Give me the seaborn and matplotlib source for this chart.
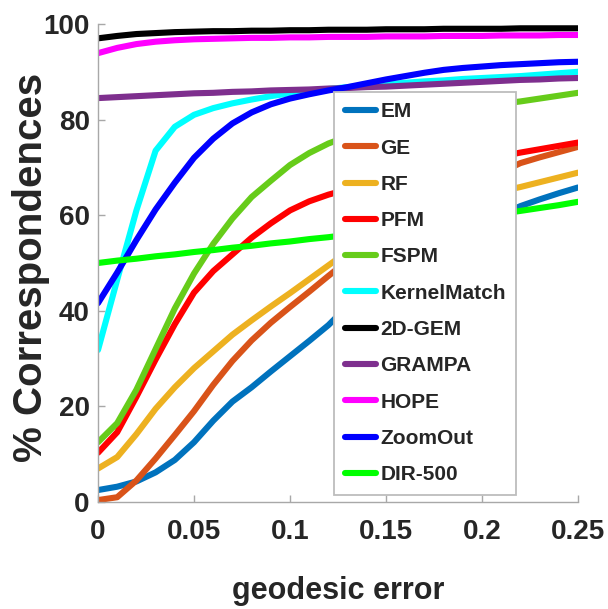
import numpy as np
import pandas as pd
import matplotlib
matplotlib.use("Agg")
import matplotlib.pyplot as plt
import seaborn as sns

# ---- data ----
x_err = [0.00, 0.01, 0.02, 0.03, 0.04, 0.05, 0.06, 0.07, 0.08, 0.09, 0.10, 0.11, 0.12,
         0.13, 0.14, 0.15, 0.16, 0.17, 0.18, 0.19, 0.20, 0.21, 0.22, 0.23, 0.24, 0.25]

em = [2.5, 3.2, 4.3, 6.2, 8.8, 12.5, 17.0, 21.0, 24.0, 27.3, 30.5, 33.7, 37.0,
      41.0, 44.2, 47.0, 49.6, 52.0, 54.2, 56.2, 58.2, 60.1, 61.9, 63.3, 64.6, 65.8]
ge = [0.4, 1.0, 4.5, 9.1, 14.0, 19.0, 24.5, 29.5, 33.8, 37.5, 40.8, 44.0, 47.3,
      50.5, 53.5, 56.2, 58.7, 61.0, 63.2, 65.2, 67.1, 69.0, 70.9, 72.1, 73.2, 74.3]
rf = [7.0, 9.4, 14.2, 19.5, 24.0, 28.0, 31.5, 35.0, 38.0, 40.9, 43.7, 46.6, 49.5,
      52.4, 54.6, 56.6, 58.4, 60.0, 61.5, 62.8, 64.0, 65.0, 65.9, 66.9, 67.9, 68.9]
pfm = [10.3, 14.6, 22.0, 29.8, 37.2, 43.8, 48.3, 51.8, 55.3, 58.3, 61.0, 62.9, 64.3,
       65.4, 66.4, 67.3, 68.2, 69.1, 69.9, 70.7, 71.5, 72.3, 73.1, 73.8, 74.5, 75.2]
fspm = [12.5, 16.5, 23.5, 32.0, 40.5, 47.8, 54.0, 59.3, 63.8, 67.2, 70.5, 73.0, 75.0,
        76.5, 77.8, 79.0, 80.0, 80.8, 81.6, 82.2, 82.8, 83.3, 83.8, 84.4, 85.0, 85.6]
kernelmatch = [31.8, 46.5, 61.0, 73.5, 78.5, 81.0, 82.4, 83.4, 84.2, 84.9, 85.5, 86.0, 86.4,
               86.8, 87.1, 87.4, 87.7, 88.0, 88.2, 88.5, 88.7, 88.9, 89.1, 89.4, 89.7, 90.0]
gem2d = [97.0, 97.5, 97.9, 98.1, 98.3, 98.4, 98.5, 98.5, 98.6, 98.6, 98.7, 98.7, 98.8,
         98.8, 98.8, 98.9, 98.9, 98.9, 99.0, 99.0, 99.0, 99.0, 99.1, 99.1, 99.1, 99.1]
grampa = [84.5, 84.7, 84.9, 85.1, 85.3, 85.5, 85.6, 85.8, 85.9, 86.1, 86.2, 86.3, 86.5,
          86.6, 86.8, 86.9, 87.1, 87.3, 87.5, 87.7, 87.9, 88.1, 88.3, 88.4, 88.6, 88.7]
hope = [93.9, 95.0, 95.8, 96.3, 96.6, 96.8, 96.9, 97.0, 97.1, 97.1, 97.2, 97.2, 97.3,
        97.3, 97.3, 97.4, 97.4, 97.4, 97.5, 97.5, 97.5, 97.6, 97.6, 97.6, 97.7, 97.7]
zoomout = [41.6, 48.0, 54.8, 61.2, 66.8, 72.0, 76.0, 79.2, 81.5, 83.2, 84.4, 85.3, 86.1,
           86.8, 87.6, 88.4, 89.1, 89.8, 90.4, 90.8, 91.1, 91.4, 91.6, 91.8, 92.0, 92.1]
dir500 = [50.0, 50.5, 50.9, 51.4, 51.8, 52.3, 52.7, 53.2, 53.6, 54.1, 54.5, 55.0, 55.4,
          55.9, 56.4, 57.0, 57.5, 58.1, 58.6, 59.2, 59.7, 60.3, 60.9, 61.5, 62.1, 62.8]

methods = ["EM", "GE", "RF", "PFM", "FSPM", "KernelMatch", "2D-GEM",
           "GRAMPA", "HOPE", "ZoomOut", "DIR-500"]
series = [em, ge, rf, pfm, fspm, kernelmatch, gem2d, grampa, hope, zoomout, dir500]
colors = ["#0072BD", "#D95319", "#EDB120", "#FF0000", "#66CC1A", "#00FFFF",
          "#000000", "#7E2F8E", "#FF00FF", "#0000FF", "#00FF00"]

x_ticks = [0, 0.05, 0.1, 0.15, 0.2, 0.25]
x_ticklabels = ["0", "0.05", "0.1", "0.15", "0.2", "0.25"]
y_ticks = [0, 20, 40, 60, 80, 100]

df = pd.DataFrame({
    "geodesic error": np.tile(x_err, len(methods)),
    "pct": np.concatenate([np.asarray(s, dtype=float) for s in series]),
    "method": np.repeat(methods, len(x_err)),
})

# ---- style ----
sns.set_theme(style="white")
plt.rcParams["font.family"] = ["Liberation Sans", "DejaVu Sans"]
plt.rcParams["font.weight"] = "bold"

fig = plt.figure(figsize=(6.08, 6.09), dpi=100)
ax = fig.add_axes([0.1612, 0.1757, 0.7895, 0.7849])

sns.lineplot(data=df, x="geodesic error", y="pct", hue="method",
             hue_order=methods, palette=dict(zip(methods, colors)),
             linewidth=4.4, sort=False, ax=ax, legend=True)

ax.set_xlim(0, 0.25)
ax.set_ylim(0, 100)
ax.set_xticks(x_ticks)
ax.set_xticklabels(x_ticklabels)
ax.set_yticks(y_ticks)

for s in ["top", "right"]:
    ax.spines[s].set_visible(False)
for s in ["left", "bottom"]:
    ax.spines[s].set_color("#A8A8A8")
    ax.spines[s].set_linewidth(1.0)

ax.tick_params(axis="both", which="both", direction="in", length=5, width=1.0,
               color="#A8A8A8", labelsize=20, labelcolor="#262626",
               bottom=True, left=True)
ax.tick_params(axis="x", pad=12)
ax.tick_params(axis="y", pad=6)
for lab in ax.get_xticklabels() + ax.get_yticklabels():
    lab.set_fontweight("bold")

ax.set_xlabel("geodesic error", fontsize=22, fontweight="bold", color="#262626")
ax.xaxis.set_label_coords(0.5, -0.155)
ax.xaxis.label.set_va("top")
ax.set_ylabel("% Correspondences", fontsize=29, fontweight="bold", color="#262626")
ax.yaxis.set_label_coords(-0.10, 0.49)

handles, labels = ax.get_legend_handles_labels()
leg = ax.legend(handles, labels, loc="upper right", bbox_to_anchor=(0.871, 0.858),
                borderaxespad=0, frameon=True, fancybox=False, framealpha=1,
                edgecolor="#BDBDBD", labelspacing=0.83, borderpad=0.5,
                handlelength=1.5, handletextpad=0.2,
                prop={"weight": "bold", "size": 15})
leg.get_frame().set_linewidth(1.3)
for t in leg.get_texts():
    t.set_color("#262626")

fig.savefig("out.png", dpi=100)
